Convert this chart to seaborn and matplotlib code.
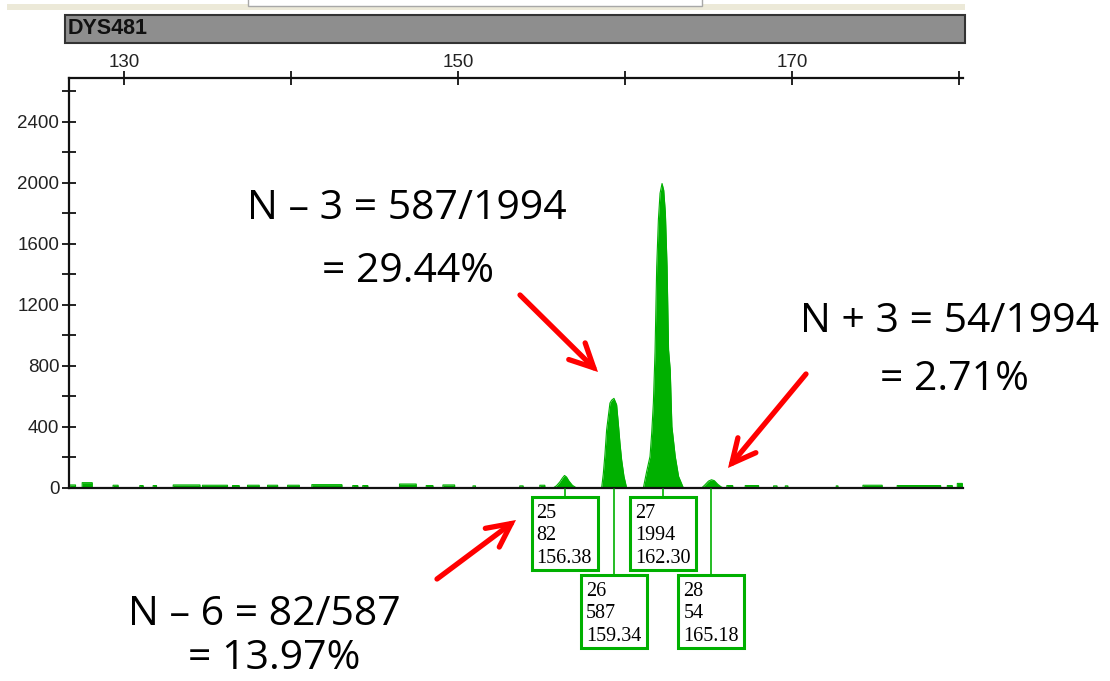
import matplotlib

matplotlib.use("Agg")
import matplotlib.pyplot as plt  # noqa: E402
from matplotlib.patches import Rectangle, FancyArrowPatch  # noqa: E402
from matplotlib.lines import Line2D  # noqa: E402
import pandas as pd  # noqa: E402
import seaborn as sns  # noqa: E402

# ---- 峰信息 (allele / height / size) ----
alleles = [25, 26, 27, 28]
peak_heights = [82, 587, 1994, 54]
peak_sizes = [156.38, 159.34, 162.30, 165.18]

# ---- 各峰轨迹 (size, RFU) ----
peak25_x = [155.70, 155.90, 156.10, 156.25, 156.38, 156.50, 156.65, 156.85, 157.10]
peak25_y = [0, 15, 40, 65, 82, 72, 45, 18, 0]
peak26_x = [158.60, 158.70, 158.80, 158.90, 159.00, 159.10, 159.20, 159.34, 159.50,
            159.60, 159.70, 159.80, 159.94, 160.10]
peak26_y = [0, 90, 220, 380, 470, 556, 575, 587, 545, 425, 294, 185, 76, 0]
peak27_x = [161.10, 161.30, 161.50, 161.60, 161.70, 161.80, 161.90, 162.00, 162.10,
            162.22, 162.32, 162.42, 162.52, 162.61, 162.71, 162.81, 163.01, 163.21, 163.50]
peak27_y = [0, 109, 207, 360, 556, 894, 1450, 1756, 1930, 1994, 1950, 1800, 1450,
            905, 774, 403, 207, 76, 0]
peak28_x = [164.59, 164.80, 165.00, 165.18, 165.35, 165.55, 165.75, 165.90]
peak28_y = [0, 22, 45, 54, 48, 25, 8, 0]

# ---- 基线噪声 ----
noise_start = [126.75, 127.50, 129.35, 130.95, 131.75, 132.95, 134.70, 136.50, 137.40,
               138.60, 139.80, 141.25, 143.70, 144.30, 146.50, 148.10, 149.10, 150.90,
               153.70, 154.90, 166.10, 167.20, 168.90, 169.60, 172.65, 174.25, 176.30,
               179.30, 179.90]
noise_end = [127.10, 128.10, 129.65, 131.15, 131.95, 134.55, 136.20, 136.90, 138.10,
             139.20, 140.50, 143.05, 144.00, 144.60, 147.50, 148.50, 149.80, 151.05,
             153.90, 155.20, 166.45, 168.00, 169.10, 169.75, 172.75, 175.40, 178.90,
             179.60, 180.20]
noise_height = [20, 35, 18, 16, 16, 20, 18, 16, 18, 18, 18, 22, 16, 16, 26, 16, 20, 14,
                14, 18, 16, 16, 14, 14, 14, 18, 16, 16, 30]

x_major = [130, 150, 170]
x_minor = [140, 160, 180]
y_major = [0, 400, 800, 1200, 1600, 2000, 2400]
y_minor = [200, 600, 1000, 1400, 1800, 2200, 2600]

# ---- 注释文字 ----
note_lines = [
    ("N – 3 = 587/1994", 407, 219),
    ("= 29.44%", 408, 282),
    ("N + 3 = 54/1994", 950, 332),
    ("= 2.71%", 954, 390),
    ("N – 6 = 82/587", 264, 625),
    ("= 13.97%", 274, 669),
]
arrows = [((520, 295), (598, 372)), ((806, 374), (728, 468)), ((437, 579), (516, 520))]

GREEN = "#00b000"
W, H = 1110, 681


def fx(px):
    return px / W


def fy(py):
    return 1 - py / H


def build_trace():
    pieces = [list(zip(peak25_x, peak25_y)), list(zip(peak26_x, peak26_y)),
              list(zip(peak27_x, peak27_y)), list(zip(peak28_x, peak28_y))]
    for s, e, h in zip(noise_start, noise_end, noise_height):
        pieces.append([(s, 0), (s, h), (e, h), (e, 0)])
    pieces.sort(key=lambda p: p[0][0])
    pts = [pt for p in pieces for pt in p]
    return pd.DataFrame(pts, columns=["size", "rfu"])


sns.set_style("white")
plt.rcParams["font.family"] = ["Liberation Sans", "DejaVu Sans"]

fig = plt.figure(figsize=(11.1, 6.81), dpi=100)

# 顶部窗口装饰
fig.add_artist(Rectangle((fx(7), fy(10)), (965 - 7) / W, 6 / H, transform=fig.transFigure,
                         fc="#ece9d8", ec="none"))
fig.add_artist(Rectangle((fx(248), fy(6)), (702 - 248) / W, 8 / H, transform=fig.transFigure,
                         fc="white", ec="#a8a8a8", lw=1))
fig.add_artist(Rectangle((fx(65), fy(43)), (965 - 65) / W, 28 / H, transform=fig.transFigure,
                         fc="#8e8e8e", ec="#333333", lw=1.5))
fig.text(fx(68), fy(29), "DYS481", fontsize=15.5, fontweight="bold", color="#111111",
         ha="left", va="center")

ax = fig.add_axes([fx(69), fy(488), (963 - 69) / W, 410 / H])
trace = build_trace()
ax.fill_between(trace["size"], trace["rfu"], 0, color=GREEN, lw=0, zorder=1)
sns.lineplot(data=trace, x="size", y="rfu", ax=ax, sort=False, estimator=None,
             color=GREEN, lw=0.8, zorder=1.5)

ax.set_xlim(126.71, 180.24)
ax.set_ylim(0, 2685)
ax.set_xlabel("")
ax.set_ylabel("")
ax.xaxis.tick_top()
ax.set_xticks(x_major)
ax.set_xticks(x_minor, minor=True)
ax.set_yticks(y_major)
ax.set_yticks(y_minor, minor=True)
ax.tick_params(axis="x", which="both", direction="inout", length=10, width=1.3,
               top=True, bottom=False, labeltop=True, labelbottom=False,
               labelsize=13.5, labelcolor="#222222", pad=0, color="#111111")
ax.tick_params(axis="y", which="both", direction="inout", length=10, width=1.3,
               left=True, right=False, labelsize=13.5, labelcolor="#222222", pad=2,
               color="#111111")
ax.spines["right"].set_visible(False)
for side in ["top", "left", "bottom"]:
    ax.spines[side].set_visible(True)
    ax.spines[side].set_linewidth(1.6)
    ax.spines[side].set_color("#111111")

# 峰标注框
for i, (a, h, s) in enumerate(zip(alleles, peak_heights, peak_sizes)):
    xc = ax.transData.transform((s, 0))[0]
    top = 497 if i % 2 == 0 else 575
    fig.add_artist(Line2D([fx(xc), fx(xc)], [fy(489), fy(top)], transform=fig.transFigure,
                          color=GREEN, lw=1.2))
    fig.add_artist(Rectangle((fx(xc - 33), fy(top + 73)), 66 / W, 73 / H,
                             transform=fig.transFigure, fill=False, ec=GREEN, lw=2.2))
    for k, line in enumerate([str(a), str(h), f"{s:.2f}"]):
        fig.text(fx(xc - 28), fy(top + 21 + 22.5 * k), line, fontsize=14.5,
                 family=["Liberation Serif"], color="black", ha="left", va="baseline")

for txt, x, y in note_lines:
    fig.text(fx(x), fy(y), txt, fontsize=29.5, family=["Open Sans", "DejaVu Sans"],
             color="black", ha="center", va="baseline")

for (x0, y0), (x1, y1) in arrows:
    arr = FancyArrowPatch((fx(x0), fy(y0)), (fx(x1), fy(y1)), transform=fig.transFigure,
                          arrowstyle="->,head_length=0.85,head_width=0.42",
                          mutation_scale=20, lw=3.8, color="#ff0000",
                          shrinkA=0, shrinkB=0, capstyle="round", joinstyle="miter")
    fig.add_artist(arr)

fig.savefig("out.png", dpi=100)
